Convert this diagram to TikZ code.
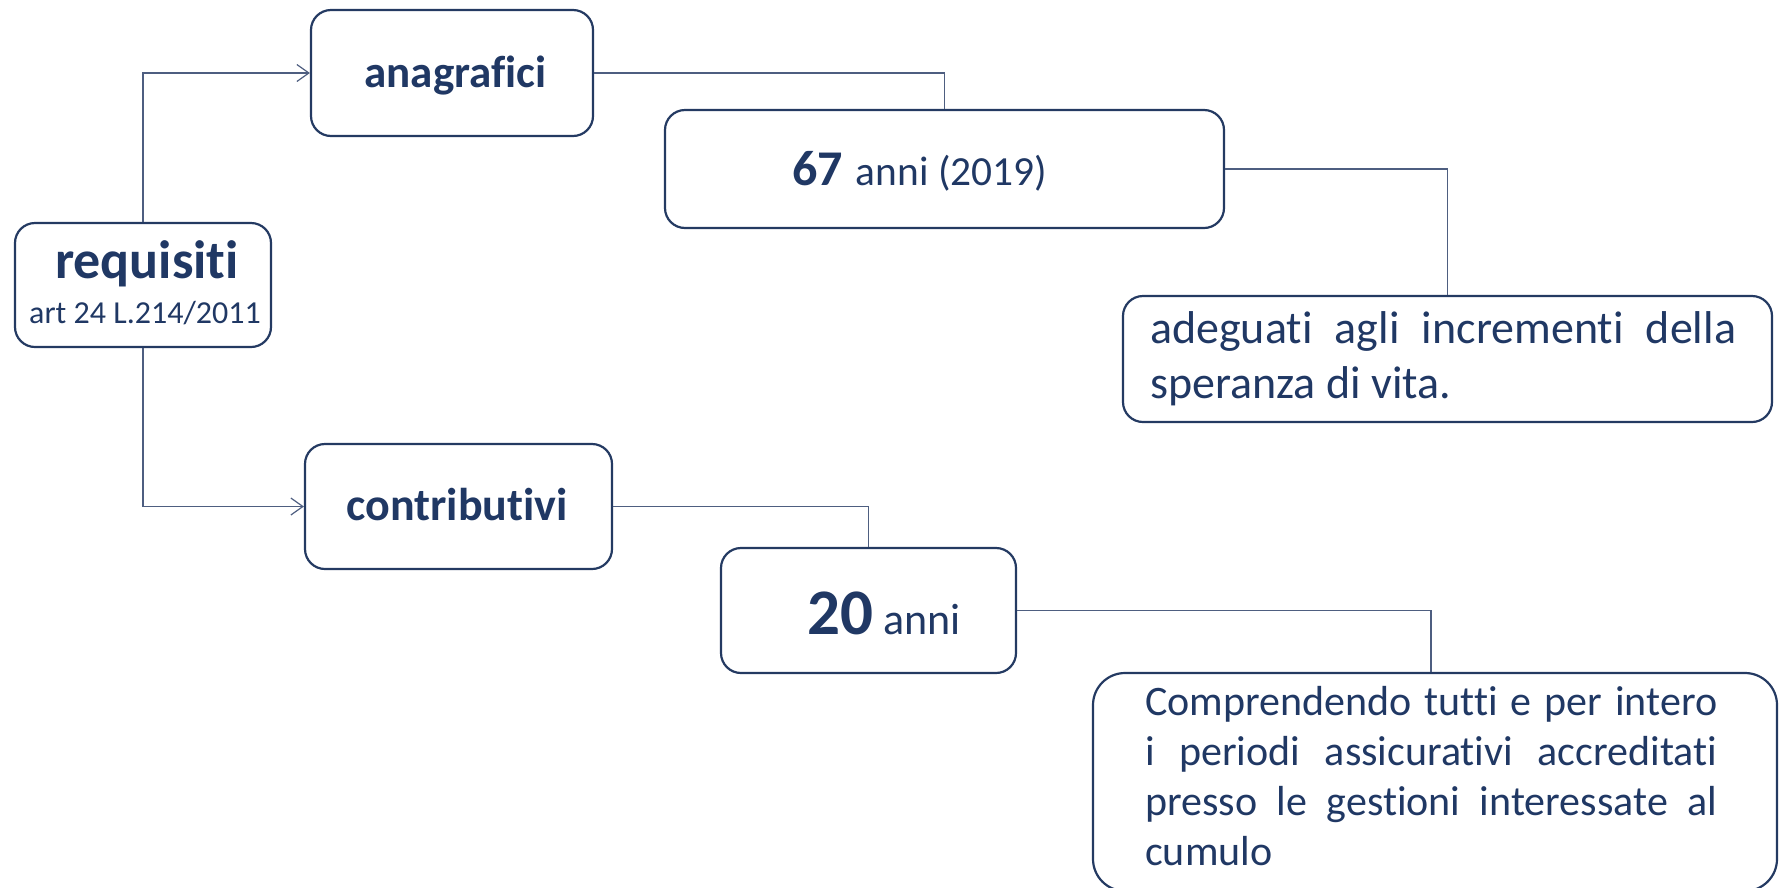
\documentclass[tikz,border=0pt]{standalone}
\usepackage{fontspec}
\setmainfont{Carlito}[Ligatures=NoCommon]
\usetikzlibrary{arrows.meta}
\definecolor{navy}{RGB}{32,56,100}
\definecolor{boxc}{RGB}{36,58,98}
\definecolor{linec}{RGB}{78,94,128}
\begin{document}
\begin{tikzpicture}[x=1pt,y=-1pt,
  box/.style={draw=boxc, line width=2.2pt, rounded corners=20pt, inner sep=0pt},
  conn/.style={draw=linec, line width=1.2pt},
  openarrow/.style={-{Straight Barb[length=12pt,width=17pt,line width=1.2pt]}},
  txt/.style={text=navy, inner sep=0pt, anchor=base west},
  ctxt/.style={text=navy, inner sep=0pt, anchor=base},
]
\useasboundingbox (0,0) rectangle (1780,887);
\clip (0,0) rectangle (1780,887);

% boxes
\node[box, minimum width=256pt, minimum height=124pt] (req) at (143,285) {};
\node[box, minimum width=282pt, minimum height=126pt] (ana) at (452,73) {};
\node[box, minimum width=307pt, minimum height=125pt] (con) at (458.5,506.5) {};
\node[box, minimum width=559pt, minimum height=118pt] (b67) at (944.5,169) {};
\node[box, minimum width=649pt, minimum height=126pt] (ade) at (1447.5,359) {};
\node[box, minimum width=295pt, minimum height=125pt] (b20) at (868.5,610.5) {};
\node[box, rounded corners=32pt, minimum width=684pt, minimum height=218pt] (comp) at (1435,782) {};

% texts
\node[ctxt, font=\fontsize{54}{60}\selectfont\bfseries] (treq) at (147,278) {requisiti};
\node[ctxt, font=\fontsize{32}{38}\selectfont] (tart) at (145,323) {art 24 L.214/2011};
\node[ctxt, font=\fontsize{45}{54}\selectfont\bfseries] (tana) at (455.5,87) {anagrafici};
\node[ctxt, font=\fontsize{46}{54}\selectfont\bfseries] (tcon) at (457,520) {contributivi};
\node[txt] (t67) at (792,185) {{\fontsize{50}{60}\selectfont\bfseries 67}\hspace{13pt}{\fontsize{41.4}{50}\selectfont anni (2019)}};
\node[txt] (t20) at (807,634) {{\fontsize{65}{70}\selectfont\bfseries 20}\hspace{10pt}{\fontsize{44}{50}\selectfont anni}};
\node[txt, font=\fontsize{46}{55}\selectfont] (tade1) at (1150,343) {\makebox[586pt][s]{adeguati agli incrementi della}};
\node[txt, font=\fontsize{46}{55}\selectfont] (tade2) at (1150,398) {speranza di vita.};
\node[txt, font=\fontsize{42}{50}\selectfont] (tc1) at (1145,715) {\makebox[572pt][s]{Comprendendo tutti e per intero}};
\node[txt, font=\fontsize{42}{50}\selectfont] (tc2) at (1145,765) {\makebox[572pt][s]{i periodi assicurativi accreditati}};
\node[txt, font=\fontsize{42}{50}\selectfont] (tc3) at (1145,815) {\makebox[572pt][s]{presso le gestioni interessate al}};
\node[txt, font=\fontsize{42}{50}\selectfont] (tc4) at (1145,865) {cumulo};

% connectors
\draw[conn, openarrow] (req.north) |- (ana.west);
\draw[conn, openarrow] (req.south) |- (con.west);
\draw[conn] (ana.east) -| (b67.north);
\draw[conn] (b67.east) -| (ade.north);
\draw[conn] (con.east) -| (b20.north);
\draw[conn] (b20.east) -| ([xshift=-4pt]comp.north);
\end{tikzpicture}
\end{document}
